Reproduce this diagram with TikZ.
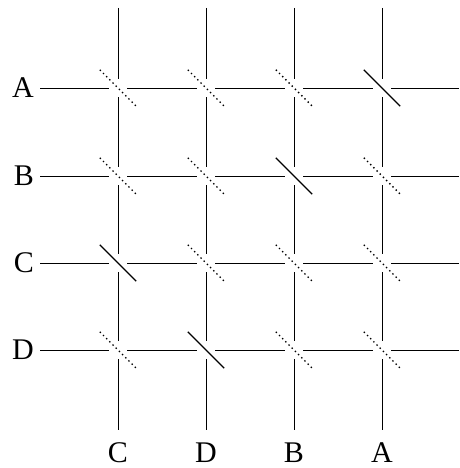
\documentclass[tikz,border=0pt]{standalone}
\usepackage{fontspec}
\setmainfont{Liberation Serif}
\usetikzlibrary{positioning}

\begin{document}
\begin{tikzpicture}[x=1pt,y=1pt,
      wire/.style={line width=0.8pt,black},
      lab/.style={font=\fontsize{30}{33}\selectfont,inner sep=0pt,
                  text height=20pt,text depth=0pt},
      hole/.style={circle,fill=white,minimum size=18pt,inner sep=0pt},
      swoff/.style={line width=1.4pt,dash pattern=on 1.4pt off 3.1pt,
                    shorten <=-16.5pt,shorten >=-16.5pt},
      swon/.style={swoff,solid,line width=1.2pt}]
    \useasboundingbox (0,0) rectangle (459,468);
    % rows
    \foreach \r/\y in {A/380,B/292,C/205,D/118}{
      \coordinate (s\r) at (40,\y);
      \coordinate (e\r) at (459,\y);
      \node[lab,left=6pt of s\r] (l\r) {\r};
      \draw[wire] (s\r) -- (e\r);
    }
    % columns
    \foreach \c/\x/\t in {1/118/C,2/206/D,3/294/B,4/382/A}{
      \coordinate (t\c) at (\x,460);
      \coordinate (b\c) at (\x,38);
      \node[lab,below=12pt of b\c] (m\c) {\t};
      \draw[wire] (t\c) -- (b\c);
    }
    % crossings
    \foreach \r/\y in {A/380,B/292,C/205,D/118}
      \foreach \c/\x in {1/118,2/206,3/294,4/382}
        \node[hole] (x\r\c) at (\x,\y) {};
    \foreach \r/\c in {A/1,A/2,A/3,B/1,B/2,B/4,C/2,C/3,C/4,D/1,D/3,D/4}
      \draw[swoff] (x\r\c.north west) -- (x\r\c.south east);
    \foreach \r/\c in {A/4,B/3,C/1,D/2}
      \draw[swon] (x\r\c.north west) -- (x\r\c.south east);
  \end{tikzpicture}
\end{document}
